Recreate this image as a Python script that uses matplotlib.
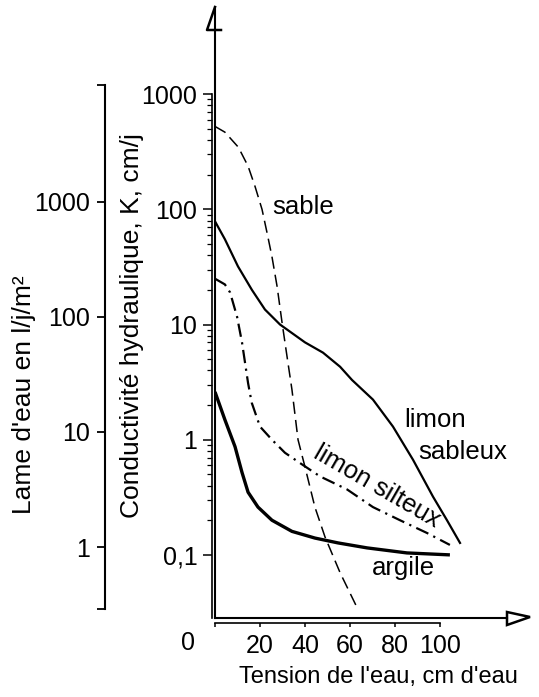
import matplotlib
matplotlib.use("Agg")
import matplotlib.pyplot as plt
from matplotlib.ticker import FixedLocator, NullFormatter
from matplotlib.patches import Polygon

# valeurs : tension (cm d'eau) -> conductivité K (cm/j)
sable_x = [0, 4.4, 10.4, 14.7, 17.8, 20.9, 23.1, 25.3, 27.6, 29.8, 32, 34.2,
           36.9, 40, 44.4, 48.9, 55.6, 63.1]
sable_k = [525, 468, 346, 237, 158, 100, 63, 39, 21.4, 10.4, 5.3, 2.72,
           1.0, 0.58, 0.26, 0.143, 0.070, 0.035]

lsab_x = [0, 4.4, 10.2, 16.4, 22.2, 28.9, 40, 48, 55.6, 60.9, 70.2, 79.1,
          88, 96.9, 103.1, 108.9]
lsab_k = [78.7, 55, 32, 20, 13.5, 10, 7.0, 5.7, 4.3, 3.3, 2.23, 1.30,
          0.67, 0.32, 0.20, 0.127]

lsil_x = [0, 4.4, 6.7, 9.8, 12, 14.7, 16.3, 20, 25.3, 31.1, 38.7, 46.7,
          58.7, 70.2, 82.2, 94.2, 104.4]
lsil_k = [25, 22.3, 19, 11.7, 7.0, 3.1, 2.1, 1.30, 1.0, 0.77, 0.61, 0.48,
          0.37, 0.26, 0.20, 0.155, 0.122]

arg_x = [0, 4.4, 8.9, 12, 14.7, 19.1, 25.3, 34.2, 44.4, 54.7, 67.6, 85.3, 104.4]
arg_k = [2.6, 1.49, 0.87, 0.52, 0.35, 0.26, 0.20, 0.16, 0.14, 0.127, 0.115,
         0.104, 0.10]

k_ticks = [0.1, 1, 10, 100, 1000]
k_labels = ["0,1", "1", "10", "100", "1000"]
lame_ticks = [1, 10, 100, 1000]
lame_labels = ["1", "10", "100", "1000"]
x_ticks = [0, 20, 40, 60, 80, 100]
x_labels = ["", "20", "40", "60", "80", "100"]

FONT = "Liberation Sans"
FS = 18
W, H = 539, 697

plt.rcParams["font.family"] = [FONT, "DejaVu Sans"]

fig = plt.figure(figsize=(W / 100, H / 100), dpi=100)

# axe principal (K)
ax = fig.add_axes([215 / W, 1 - 618 / H, (530 - 215) / W, (618 - 7) / H])
ax.set_xlim(0, 140)
ax.set_yscale("log")
ax.set_ylim(10 ** -1.548, 10 ** 3.757)

ax.plot(sable_x, sable_k, color="k", lw=1.1, dashes=(8, 4))
ax.plot(lsab_x, lsab_k, color="k", lw=1.6)
ax.plot(lsil_x, lsil_k, color="k", lw=1.6, dashes=(6, 2.5, 1, 2.5))
ax.plot(arg_x, arg_k, color="k", lw=2.4, solid_capstyle="butt")

for s in ["top", "right"]:
    ax.spines[s].set_visible(False)
ax.spines["left"].set_position(("outward", 2.2))
ax.spines["left"].set_bounds(10 ** -1.548, 1000)
ax.spines["bottom"].set_position(("outward", 3.6))
ax.spines["bottom"].set_bounds(0, 100)
ax.spines["left"].set_linewidth(1.2)
ax.spines["bottom"].set_linewidth(1.2)

ax.yaxis.set_major_locator(FixedLocator(k_ticks))
ax.set_yticklabels(k_labels)
minors = [m * 10.0 ** e for e in range(-1, 3) for m in range(2, 10)]
ax.yaxis.set_minor_locator(FixedLocator(minors))
ax.yaxis.set_minor_formatter(NullFormatter())
ax.tick_params(axis="y", which="major", direction="out", length=6.5, width=1.1,
               pad=4, labelsize=FS)
ax.tick_params(axis="y", which="minor", direction="out", length=3.5, width=0.9)

ax.set_xticks(x_ticks)
ax.set_xticklabels(x_labels)
ax.tick_params(axis="x", direction="out", length=3, width=1.1, pad=5, labelsize=FS)
ax.text(-12, -0.041, "0", transform=ax.get_xaxis_transform(), ha="center",
        va="center", fontsize=FS)

# cadre avec flèches
def px(x, y):
    return ((x - 215) / 315, (618 - y) / 611)

ax.plot([0, 0], [0, px(215, 7)[1]], color="k", lw=1.5,
        transform=ax.transAxes, clip_on=False)
ax.plot([0, px(507, 618)[0]], [0, 0], color="k", lw=1.5,
        transform=ax.transAxes, clip_on=False)
top = [px(215, 7), px(207, 30), px(221, 30)]
ax.plot([p[0] for p in top], [p[1] for p in top], color="k", lw=1.8,
        transform=ax.transAxes, clip_on=False)
ax.add_patch(Polygon([px(507, 612), px(530, 617), px(507, 625)], closed=True,
                     fill=False, lw=1.8, ec="k", transform=ax.transAxes,
                     clip_on=False))

# noms des courbes
ax.text(39, 105, "sable", ha="center", va="center", fontsize=FS + 0.5)
ax.text(97.8, 1.49, "limon", ha="center", va="center", fontsize=FS + 0.5)
ax.text(110, 0.79, "sableux", ha="center", va="center", fontsize=FS + 0.5)
ax.text(72, 0.39, "limon silteux", ha="center", va="center", rotation=-30,
        rotation_mode="anchor", fontsize=FS + 0.5)
ax.text(83.6, 0.077, "argile", ha="center", va="center", fontsize=FS + 0.5)

# axe de gauche : lame d'eau
ax2 = fig.add_axes([105 / W, 1 - 609 / H, 0.001, (609 - 85) / H])
ax2.set_yscale("log")
lo, hi = 10 ** -0.539, 10 ** 4.017
ax2.set_ylim(lo, hi)
ax2.set_xlim(0, 1)
for s in ["top", "right", "bottom"]:
    ax2.spines[s].set_visible(False)
ax2.spines["left"].set_linewidth(1.5)
ax2.set_xticks([])
ax2.yaxis.set_major_locator(FixedLocator([lo] + lame_ticks + [hi]))
ax2.set_yticklabels([""] + lame_labels + [""])
ax2.yaxis.set_minor_locator(FixedLocator([]))
ax2.tick_params(axis="y", direction="out", length=6, width=1.3, pad=5, labelsize=FS)
ax2.patch.set_visible(False)

# titres des axes
fig.text(132 / W, 1 - 326 / H, "Conductivité hydraulique, K, cm/j", rotation=90,
         ha="center", va="center", fontsize=FS + 1)
fig.text(24 / W, 1 - 395 / H, "Lame d'eau en l/j/m²", rotation=90,
         ha="center", va="center", fontsize=FS + 1)
fig.text(378 / W, 1 - 677 / H, "Tension de l'eau, cm d'eau", ha="center",
         va="center", fontsize=FS - 1)

fig.savefig("out.png", dpi=100)
